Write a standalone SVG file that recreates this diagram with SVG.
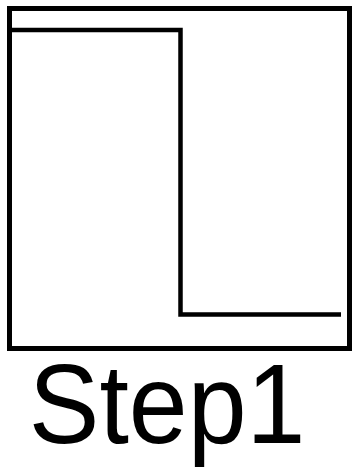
<svg xmlns="http://www.w3.org/2000/svg" width="352" height="467" viewBox="0 0 352 467">
<style>
.ln{fill:none;stroke:#000;stroke-width:5}
.st{fill:none;stroke:#000;stroke-width:4.5}
.lbl{font-family:"Liberation Sans",Arial,sans-serif;font-size:113px;fill:#000}
</style>
<rect width="352" height="467" fill="#fff"/>
<g id="frame"><rect class="ln" x="9.5" y="8.5" width="340" height="340"/></g>
<g id="connectors"><polyline class="st" points="10,30 180.5,30 180.5,314.5 341,314.5"/></g>
<g id="label" transform="translate(36,0) scale(0.937,1) translate(-36,0)"><text class="lbl" x="176" y="443" text-anchor="middle">Step1</text></g>
</svg>
